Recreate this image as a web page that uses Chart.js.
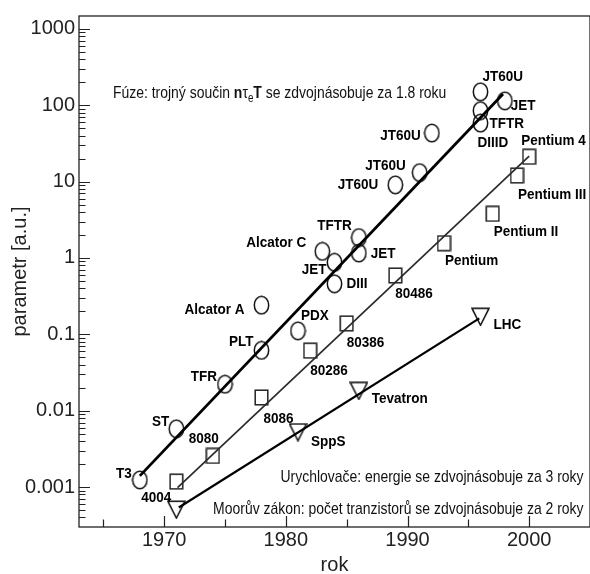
<!DOCTYPE html>
<html>
<head>
<meta charset="utf-8">
<script src="https://cdn.jsdelivr.net/npm/chart.js@4.4.1/dist/chart.umd.min.js"></script>
<style>
  html, body { margin: 0; padding: 0; background: #fff; overflow: hidden; }
  canvas { display: block; }
</style>
</head>
<body>
<canvas id="trendChart" width="600" height="574"></canvas>
<script>
// fusion experiments (triple product)
const fusionYears  = [1968, 1971, 1975, 1978, 1978, 1981, 1983, 1984, 1984, 1986, 1986, 1989, 1991, 1992, 1996, 1998, 1996, 1996];
const fusionValues = [0.00124, 0.0058, 0.0222, 0.0617, 0.241, 0.111, 1.22, 0.877, 0.459, 1.85, 1.16, 9.07, 13.1, 43.2, 150, 114, 84.9, 58.3];
const fusionNames  = ['T3', 'ST', 'TFR', 'PLT', 'Alcator A', 'PDX', 'Alcator C', 'JET', 'DIII', 'TFTR', 'JET', 'JT60U', 'JT60U', 'JT60U', 'JT60U', 'JET', 'TFTR', 'DIIID'];

// Moore's law - processors
const mooreYears  = [1971, 1974, 1978, 1982, 1985, 1989, 1993, 1997, 1999, 2000];
const mooreValues = [0.00118, 0.00256, 0.0149, 0.0611, 0.139, 0.59, 1.56, 3.78, 12.0, 21.1];
const mooreNames  = ['4004', '8080', '8086', '80286', '80386', '80486', 'Pentium', 'Pentium II', 'Pentium III', 'Pentium 4'];

// accelerators - energy
const accelYears  = [1971, 1981, 1986, 1996];
const accelValues = [0.000507, 0.00524, 0.0182, 0.170];
const accelNames  = ['', 'SppS', 'Tevatron', 'LHC'];

// fitted trend lines (end points)
const fusionTrendYears  = [1968, 1997.85];
const fusionTrendValues = [0.0014, 140];
const mooreTrendYears   = [1971.1, 2000];
const mooreTrendValues  = [0.00098, 21.5];
const accelTrendYears   = [1971.2, 1995.9];
const accelTrendValues  = [0.00054, 0.162];

// axis ticks
const xTickLabels = ['1970', '1980', '1990', '2000'];
const yTickLabels = ['0.001', '0.01', '0.1', '1', '10', '100', '1000'];

// label placement next to the markers: [dx, dy, align]
const fusionLabelPos = [[-8,-6,'right'],[-7,-7,'right'],[-8,-7,'right'],[-8,-8,'right'],[-17,5,'right'],[3,-15,'left'],
  [-16,-8,'right'],[-8,8,'right'],[12,0,'left'],[-7,-12,'right'],[12,1,'left'],[-17,0,'right'],[-14,-7,'right'],
  [-11,3,'right'],[2,-15,'left'],[6,5,'left'],[9,13,'left'],[-3,20,'left']];
const mooreLabelPos = [[-5,16,'right'],[6,-17,'right'],[2,21,'left'],[0,20,'left'],[0,19,'left'],[0,18,'left'],
  [1,18,'left'],[1,18,'left'],[1,19,'left'],[-8,-16,'left']];
const accelLabelPos = [[0,0,'left'],[13,10,'left'],[13,8,'left'],[13,8,'left']];

const toPoints = (xs, ys) => xs.map((x, i) => ({x: x, y: ys[i]}));

function makeMarker(kind) {
  const c = document.createElement('canvas');
  const g = c.getContext('2d');
  if (kind === 'circle') {
    c.width = 17; c.height = 20;
    g.strokeStyle = '#111'; g.lineWidth = 1.5;
    g.beginPath();
    g.ellipse(8.5, 10, 7.2, 8.7, 0, 0, Math.PI * 2);
    g.stroke();
  } else if (kind === 'square') {
    c.width = 15; c.height = 17;
    g.strokeStyle = '#222'; g.lineWidth = 1.5;
    g.strokeRect(1.2, 1.2, 12.6, 14.6);
  } else {
    c.width = 19; c.height = 19;
    g.strokeStyle = '#111'; g.lineWidth = 1.5;
    g.beginPath();
    g.moveTo(1, 1.2); g.lineTo(18, 1.2); g.lineTo(9.5, 18); g.closePath();
    g.stroke();
  }
  return c;
}

const decadeOf = v => Math.round(Math.log10(v));
const isDecade = v => Math.abs(Math.log10(v) - decadeOf(v)) < 1e-6;

const yMin = Math.pow(10, -3.514);
const yMax = Math.pow(10, 3.168);

// tick marks drawn inside the frame, plus the frame itself
const frameAndTicks = {
  id: 'frameAndTicks',
  afterDatasetsDraw(chart) {
    const {ctx, chartArea: a, scales: {x, y}} = chart;
    ctx.save();
    ctx.strokeStyle = '#222';
    ctx.lineWidth = 1.3;
    ctx.strokeRect(a.left, a.top, a.right - a.left, a.bottom - a.top);
    ctx.lineWidth = 1.2;
    ctx.beginPath();
    y.ticks.forEach(t => {
      const py = Math.round(y.getPixelForValue(t.value)) + 0.5;
      const len = isDecade(t.value) ? 11 : 6.5;
      ctx.moveTo(a.left, py); ctx.lineTo(a.left + len, py);
    });
    x.ticks.forEach(t => {
      const px = Math.round(x.getPixelForValue(t.value)) + 0.5;
      const len = t.value % 10 === 0 ? 11 : 7.5;
      ctx.moveTo(px, a.bottom); ctx.lineTo(px, a.bottom - len);
    });
    ctx.stroke();
    ctx.restore();
  }
};

// text beside the markers and the three notes
const notes = {
  id: 'notes',
  afterDatasetsDraw(chart) {
    const {ctx, chartArea: a} = chart;
    ctx.save();
    ctx.fillStyle = '#000';
    ctx.font = 'bold 15px "Liberation Sans", Arial, sans-serif';
    ctx.textBaseline = 'middle';
    chart.data.datasets.forEach((ds, di) => {
      if (!ds.names) return;
      const meta = chart.getDatasetMeta(di);
      meta.data.forEach((el, i) => {
        const name = ds.names[i];
        if (!name) return;
        const [dx, dy, align] = ds.labelPos[i];
        ctx.save();
        ctx.translate(el.x + dx, el.y + dy);
        ctx.scale(0.9, 1);
        ctx.textAlign = align;
        ctx.fillText(name, 0, 0);
        ctx.restore();
      });
    });

    const narrow = 0.82;
    const normal = '17px "Liberation Sans", Arial, sans-serif';
    const bold = 'bold 17px "Liberation Sans", Arial, sans-serif';
    const drawRuns = (runs, x0, base) => {
      ctx.save();
      ctx.translate(x0, base);
      ctx.scale(narrow, 1);
      ctx.textAlign = 'left';
      ctx.textBaseline = 'alphabetic';
      let cx = 0;
      runs.forEach(r => {
        ctx.font = r.font;
        ctx.fillText(r.text, cx, r.dy || 0);
        cx += ctx.measureText(r.text).width;
      });
      ctx.restore();
      return cx * narrow;
    };
    ctx.fillStyle = '#111';
    drawRuns([
      {text: 'Fúze: trojný součin ', font: normal},
      {text: 'n', font: bold},
      {text: 'τ', font: normal},
      {text: 'e', font: '12px "Liberation Sans", Arial, sans-serif', dy: 4},
      {text: 'T', font: bold},
      {text: ' se zdvojnásobuje za 1.8 roku', font: normal}
    ], a.left + 34, a.top + 82);

    const rightEdge = a.left + 504.5;
    ctx.font = normal;
    const t1 = 'Urychlovače: energie se zdvojnásobuje za 3 roky';
    const t2 = 'Moorův zákon: počet tranzistorů se zdvojnásobuje za 2 roky';
    const w1 = ctx.measureText(t1).width * narrow;
    const w2 = ctx.measureText(t2).width * narrow;
    drawRuns([{text: t1, font: normal}], rightEdge - w1, a.top + 466);
    drawRuns([{text: t2, font: normal}], rightEdge - w2, a.top + 497.5);
    ctx.restore();
  }
};

new Chart(document.getElementById('trendChart'), {
  type: 'scatter',
  data: {
    datasets: [
      {
        type: 'line',
        data: toPoints(fusionTrendYears, fusionTrendValues),
        borderColor: '#000', borderWidth: 2.8, pointRadius: 0, fill: false
      },
      {
        type: 'line',
        data: toPoints(mooreTrendYears, mooreTrendValues),
        borderColor: '#2e2a2a', borderWidth: 1.7, pointRadius: 0, fill: false
      },
      {
        type: 'line',
        data: toPoints(accelTrendYears, accelTrendValues),
        borderColor: '#000', borderWidth: 2.2, pointRadius: 0, fill: false
      },
      {
        data: toPoints(fusionYears, fusionValues),
        names: fusionNames, labelPos: fusionLabelPos,
        pointStyle: makeMarker('circle'), pointRadius: 8
      },
      {
        data: toPoints(mooreYears, mooreValues),
        names: mooreNames, labelPos: mooreLabelPos,
        pointStyle: makeMarker('square'), pointRadius: 8
      },
      {
        data: toPoints(accelYears, accelValues),
        names: accelNames, labelPos: accelLabelPos,
        pointStyle: makeMarker('triangle'), pointRadius: 9
      }
    ]
  },
  options: {
    responsive: false,
    devicePixelRatio: 1,
    animation: false,
    events: [],
    layout: { padding: { top: 11, right: 5, left: 0, bottom: 0 } },
    plugins: { legend: { display: false }, tooltip: { enabled: false } },
    scales: {
      x: {
        type: 'linear',
        min: 1963,
        max: 2005,
        grid: { display: false, drawTicks: false },
        border: { display: false },
        afterBuildTicks: s => {
          const t = [];
          for (let v = 1965; v <= 2000; v += 5) t.push({value: v});
          s.ticks = t;
        },
        afterFit: s => { s.height = 47; },
        ticks: {
          padding: 1,
          color: '#222',
          font: { family: '"Liberation Sans", Arial, sans-serif', size: 20 },
          autoSkip: false,
          maxRotation: 0,
          callback: v => xTickLabels.includes(String(v)) ? String(v) : ''
        },
        title: {
          display: true, text: 'rok', color: '#222',
          font: { family: '"Liberation Sans", Arial, sans-serif', size: 20, lineHeight: 1 },
          padding: { top: 0, bottom: -1 }
        }
      },
      y: {
        type: 'logarithmic',
        min: yMin,
        max: yMax,
        grid: { display: false, drawTicks: false },
        border: { display: false },
        afterBuildTicks: s => {
          const t = [];
          for (let e = -4; e <= 3; e++) {
            for (let m = 1; m <= 9; m++) {
              const v = m * Math.pow(10, e);
              if (v >= yMin && v <= yMax) t.push({value: v});
            }
          }
          s.ticks = t;
        },
        afterFit: s => { s.width = 79; },
        ticks: {
          padding: 4,
          color: '#222',
          font: { family: '"Liberation Sans", Arial, sans-serif', size: 20 },
          autoSkip: false,
          callback: v => {
            if (!isDecade(v)) return '';
            const lbl = yTickLabels.find(l => decadeOf(Number(l)) === decadeOf(v));
            return lbl || '';
          }
        },
        title: {
          display: true, text: 'parametr [a.u.]', color: '#222',
          font: { family: '"Liberation Sans", Arial, sans-serif', size: 20, lineHeight: 1 },
          padding: { top: 10, bottom: 0 }
        }
      }
    }
  },
  plugins: [frameAndTicks, notes]
});
</script>
</body>
</html>
